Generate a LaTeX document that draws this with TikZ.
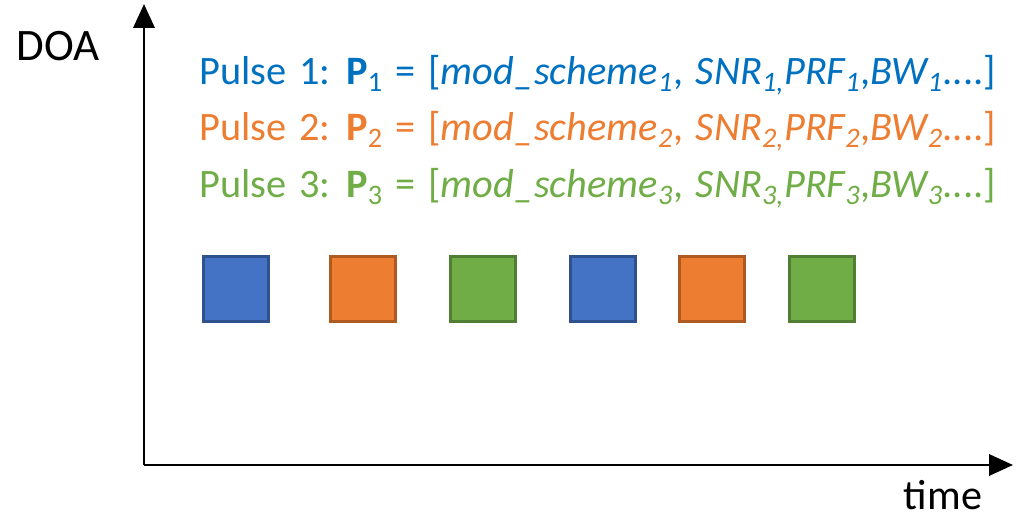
\documentclass[tikz,border=0pt]{standalone}
\usepackage{fontspec}
\setmainfont{Carlito}[WordSpace=1.4]
\usetikzlibrary{arrows.meta}
\usetikzlibrary{positioning}
\definecolor{txtblue}{HTML}{0070C0}
\definecolor{txtorange}{HTML}{ED7D31}
\definecolor{txtgreen}{HTML}{70AD47}
\definecolor{boxblue}{HTML}{4472C4}
\definecolor{edgeblue}{HTML}{2F528F}
\definecolor{boxorange}{HTML}{ED7D31}
\definecolor{edgeorange}{HTML}{AE5A21}
\definecolor{boxgreen}{HTML}{70AD47}
\definecolor{edgegreen}{HTML}{507E32}
\newcommand{\pulseparams}[1]{Pulse #1: \textbf{P}\textsubscript{#1} = [\textit{mod\_scheme\textsubscript{#1}}, \textit{SNR\textsubscript{#1,}PRF\textsubscript{#1}},\textit{BW\textsubscript{#1}}....]}

\begin{document}
\begin{tikzpicture}[x=0.025cm, y=-0.025cm,
    axis/.style={line width=2.1pt, -{Triangle[length=17pt, width=15pt]}},
    pulsebox/.style={minimum size=1.62cm, line width=2.1pt, inner sep=0pt},
    pulsetext/.style={anchor=base west, inner sep=0pt, font=\fontsize{28.7}{34}\selectfont},
    axislabel/.style={anchor=base, inner sep=0pt}]
    \useasboundingbox (0,0) rectangle (1016,523);
    % Axes
    \coordinate (origin) at (144,465);
    \coordinate (ytop) at (144,4);
    \coordinate (xend) at (1013,465);
    \draw[axis] (origin) -- (ytop);
    \draw[axis] (origin) -- (xend);
    \node[axislabel, font=\fontsize{32}{38}\selectfont] (doa) at (58,61) {DOA};
    \node[axislabel, font=\fontsize{30}{36}\selectfont] (time) at (943,509) {time};

    % Pulse descriptions
    \node[pulsetext, text=txtblue]   (pulse1) at (199,85)  {\pulseparams{1}};
    \node[pulsetext, text=txtorange] (pulse2) at (199,141) {\pulseparams{2}};
    \node[pulsetext, text=txtgreen]  (pulse3) at (199,198) {\pulseparams{3}};

    % Pulse train
    \node[pulsebox, fill=boxblue,   draw=edgeblue]   (sq1) at (236,289) {};
    \node[pulsebox, fill=boxorange, draw=edgeorange] (sq2) at (363,289) {};
    \node[pulsebox, fill=boxgreen,  draw=edgegreen]  (sq3) at (483,289) {};
    \node[pulsebox, fill=boxblue,   draw=edgeblue]   (sq4) at (603,289) {};
    \node[pulsebox, fill=boxorange, draw=edgeorange] (sq5) at (712,289) {};
    \node[pulsebox, fill=boxgreen,  draw=edgegreen]  (sq6) at (822,289) {};
  \end{tikzpicture}
\end{document}
